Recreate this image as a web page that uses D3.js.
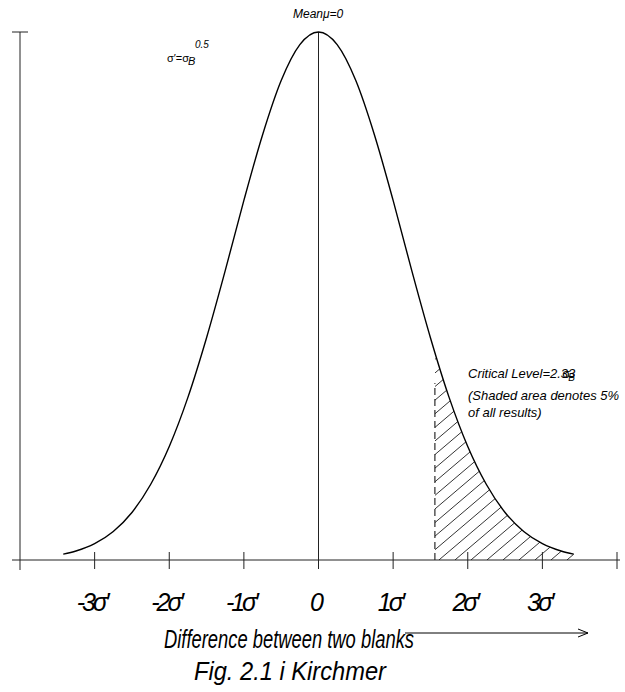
<!DOCTYPE html>
<html>
<head>
<meta charset="utf-8">
<script src="https://cdn.jsdelivr.net/npm/d3@7"></script>
<style>
  body { margin: 0; background: #fff; }
  text { font-family: "Liberation Sans", Arial, sans-serif; font-style: italic; fill: #000; }
</style>
</head>
<body>
<svg id="chart" width="625" height="692"></svg>
<script>
// curve: x in tick units, height relative to the peak
var curveX = [-3.42, -3.25, -3, -2.75, -2.5, -2.25, -2, -1.75, -1.5, -1.25, -1, -0.75, -0.5, -0.25, 0,
              0.25, 0.5, 0.75, 1, 1.25, 1.5, 1.75, 2, 2.25, 2.5, 2.75, 3, 3.25, 3.42]
var curveY = [0.011, 0.017, 0.031, 0.054, 0.090, 0.143, 0.215, 0.308, 0.421, 0.548, 0.681, 0.805, 0.908, 0.976, 1,
              0.976, 0.908, 0.805, 0.681, 0.548, 0.421, 0.308, 0.215, 0.143, 0.090, 0.054, 0.031, 0.017, 0.011]

var tickVals   = [-4, -3, -2, -1, 0, 1, 2, 3, 4]
var labelVals  = [-3, -2, -1, 0, 1, 2, 3]
var labelTexts = ["-3σ′", "-2σ′", "-1σ′", "0", "1σ′", "2σ′", "3σ′"]

var critX = 1.56      // start of the shaded tail
var critTop = 0.335   // top of the dashed line

var svg = d3.select("#chart")

var x = d3.scaleLinear().domain([-4, 4]).range([20, 617])
var y = d3.scaleLinear().domain([0, 1]).range([560, 32])

var data = curveX.map(function(d, i){ return {x: d, y: curveY[i]} })

var line = d3.line()
  .curve(d3.curveMonotoneX)
  .x(function(d){ return x(d.x) })
  .y(function(d){ return y(d.y) })

var area = d3.area()
  .curve(d3.curveMonotoneX)
  .x(function(d){ return x(d.x) })
  .y0(y(0))
  .y1(function(d){ return y(d.y) })

var defs = svg.append("defs")
defs.append("clipPath").attr("id", "under")
  .append("path").datum(data).attr("d", area)
defs.append("clipPath").attr("id", "tail")
  .append("rect")
  .attr("x", x(critX)).attr("y", 0)
  .attr("width", 625 - x(critX)).attr("height", y(0))

// hatching in the tail
var hatch = svg.append("g").attr("clip-path", "url(#tail)")
  .append("g").attr("clip-path", "url(#under)")
var slope = 0.85
for (var bx = x(critX) - 300; bx < 625; bx += 16) {
  hatch.append("line")
    .attr("x1", bx).attr("y1", y(0))
    .attr("x2", bx + 300).attr("y2", y(0) - 300 * slope)
    .attr("stroke", "#000").attr("stroke-width", 0.8)
}

// dashed critical line
svg.append("line")
  .attr("x1", x(critX)).attr("x2", x(critX))
  .attr("y1", y(0)).attr("y2", y(critTop))
  .attr("stroke", "#000").attr("stroke-width", 1)
  .attr("stroke-dasharray", "7,4")

// x axis
svg.append("line")
  .attr("x1", 12).attr("x2", 620)
  .attr("y1", y(0)).attr("y2", y(0))
  .attr("stroke", "#222").attr("stroke-width", 1)

svg.selectAll(".tick")
  .data(tickVals.filter(function(d){ return d > -4 }))
  .enter().append("line")
  .attr("class", "tick")
  .attr("x1", function(d){ return x(d) }).attr("x2", function(d){ return x(d) })
  .attr("y1", y(0) - 8).attr("y2", y(0) + 9)
  .attr("stroke", "#222").attr("stroke-width", 1)

// y axis
svg.append("line")
  .attr("x1", x(-4)).attr("x2", x(-4))
  .attr("y1", y(1)).attr("y2", y(0) + 10)
  .attr("stroke", "#222").attr("stroke-width", 1)
svg.append("line")
  .attr("x1", x(-4) - 8).attr("x2", x(-4) + 8)
  .attr("y1", y(1)).attr("y2", y(1))
  .attr("stroke", "#222").attr("stroke-width", 1)

// mean line
svg.append("line")
  .attr("x1", x(0)).attr("x2", x(0))
  .attr("y1", y(1)).attr("y2", y(0))
  .attr("stroke", "#222").attr("stroke-width", 1)

// the curve
svg.append("path")
  .datum(data)
  .attr("d", line)
  .attr("fill", "none")
  .attr("stroke", "#000")
  .attr("stroke-width", 1.4)

// tick labels
svg.selectAll(".lab")
  .data(labelVals)
  .enter().append("text")
  .attr("class", "lab")
  .attr("x", function(d){ return x(d) - 3 })
  .attr("y", 611)
  .attr("text-anchor", "middle")
  .attr("font-size", 25)
  .attr("letter-spacing", -3)
  .text(function(d, i){ return labelTexts[i] })

// axis title + arrow
svg.append("text")
  .attr("x", 164).attr("y", 648)
  .attr("font-size", 26)
  .attr("textLength", 250).attr("lengthAdjust", "spacingAndGlyphs")
  .text("Difference between two blanks")
svg.append("line")
  .attr("x1", 405).attr("x2", 588)
  .attr("y1", 633).attr("y2", 633)
  .attr("stroke", "#000").attr("stroke-width", 1)
svg.append("path")
  .attr("d", "M578,629 L588,633 L578,637")
  .attr("fill", "none").attr("stroke", "#000").attr("stroke-width", 1)

svg.append("text")
  .attr("x", 290).attr("y", 680)
  .attr("text-anchor", "middle")
  .attr("font-size", 26)
  .attr("textLength", 192).attr("lengthAdjust", "spacingAndGlyphs")
  .text("Fig. 2.1 i Kirchmer")

// annotations
svg.append("text")
  .attr("x", 293).attr("y", 18)
  .attr("font-size", 12)
  .text("Meanμ=0")

var s = svg.append("text").attr("x", 167).attr("y", 62).attr("font-size", 11)
s.append("tspan").style("font-style", "normal").text("σ′=σ")
s.append("tspan").attr("dy", 3).attr("dx", -1).text("B")
svg.append("text")
  .attr("x", 195).attr("y", 48)
  .attr("font-size", 10)
  .text("0.5")

var c = svg.append("text").attr("x", 468).attr("y", 378).attr("font-size", 13)
c.append("tspan").text("Critical Level=2.33")
c.append("tspan").attr("dx", -13).style("font-style", "normal").text("σ")
c.append("tspan").attr("dy", 3).attr("dx", -2).attr("font-size", 10).text("B")
svg.append("text").attr("x", 468).attr("y", 400).attr("font-size", 13)
  .text("(Shaded area denotes 5%")
svg.append("text").attr("x", 468).attr("y", 417).attr("font-size", 13)
  .text("of all results)")
</script>
</body>
</html>
